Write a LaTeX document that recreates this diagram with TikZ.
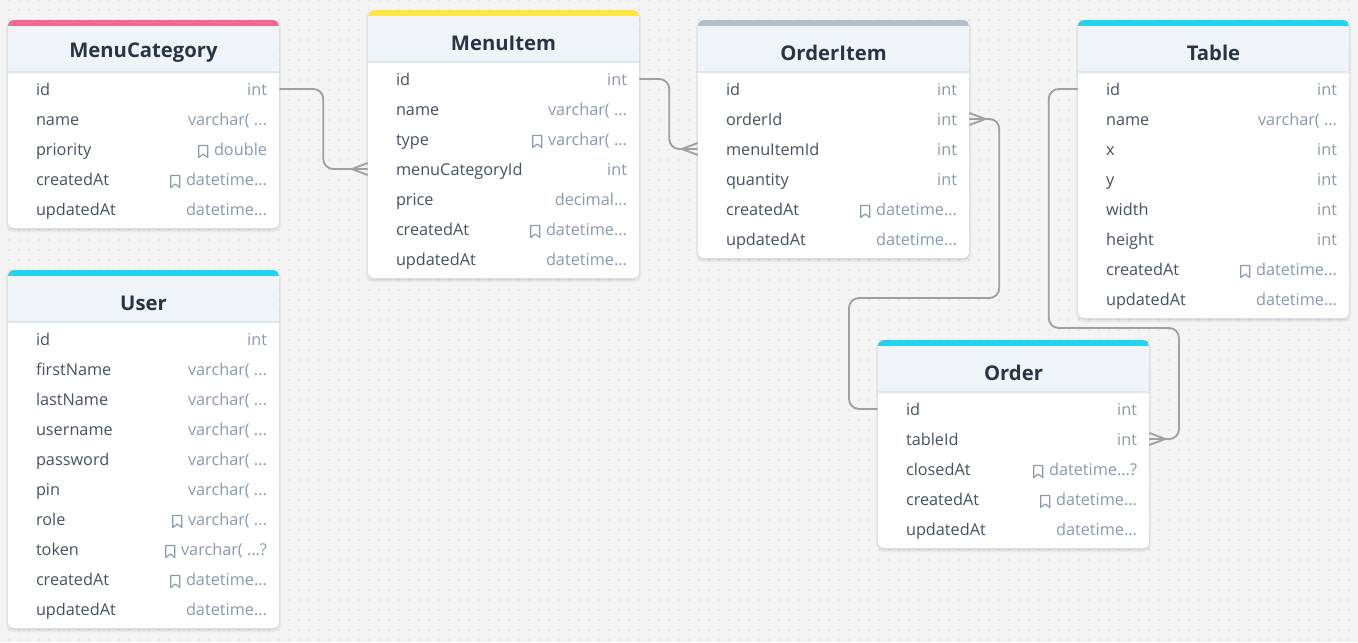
\documentclass[tikz,border=0pt]{standalone}
\usepackage{fontspec}
\setmainfont{Open Sans}
\usetikzlibrary{calc}
\definecolor{bgc}{HTML}{F4F4F4}
\definecolor{dotc}{HTML}{B4B4B4}
\definecolor{hdrc}{HTML}{F0F3F8}
\definecolor{hdrline}{HTML}{E0E6EF}
\definecolor{titlec}{HTML}{2A3444}
\definecolor{fieldc}{HTML}{485162}
\definecolor{typec}{HTML}{8C98AF}
\definecolor{connc}{HTML}{A0A0A0}
\definecolor{pinkc}{HTML}{F4678F}
\definecolor{yellowc}{HTML}{FDE843}
\definecolor{grayc}{HTML}{B4BEC9}
\definecolor{cyanc}{HTML}{22D3EE}
\tikzset{
  rowbox/.style={minimum width=203.25pt, minimum height=22.5pt, inner sep=0pt, draw=none},
  fieldtxt/.style={anchor=west, inner sep=0pt, text height=8pt, text depth=2.5pt, text=fieldc, font=\fontsize{12.2pt}{14pt}\selectfont},
  typetxt/.style={anchor=east, inner sep=0pt, text height=8pt, text depth=2.5pt, text=typec, font=\fontsize{12.2pt}{14pt}\selectfont},
  titletxt/.style={inner sep=0pt, text=titlec, font=\fontsize{15.2pt}{17pt}\selectfont\bfseries},
  bmk/.style={draw=typec, line width=0.85pt, line join=round},
  conn/.style={draw=connc, line width=1.4pt, rounded corners=7.5pt},
  foot/.style={draw=connc, line width=1.4pt},
}
\newcommand\bmark[1]{\draw[bmk] ($(#1.west)+(-15,-6)$) -- ++(9,0) -- ++(0,12) -- ++(-4.5,-3.5) -- ++(-4.5,3.5) -- cycle;}
\newcommand\dbtable[7]{%
  \fill[black, opacity=0.05, rounded corners=6pt] ({#2-2},{#3}) rectangle ({#2+273},{#3+62+30*#4});
  \fill[black, opacity=0.06, rounded corners=5pt] ({#2-0.5},{#3+1}) rectangle ({#2+271.5},{#3+60+30*#4});
  \fill[white, rounded corners=4.5pt] (#2,#3) rectangle ({#2+271},{#3+58+30*#4});
  \begin{scope}
    \clip[rounded corners=4.5pt] (#2,#3) rectangle ({#2+271},{#3+58+30*#4});
    \fill[#5] (#2,#3) rectangle ({#2+271},{#3+6});
    \fill[hdrc] (#2,{#3+6}) rectangle ({#2+271},{#3+52});
    \draw[hdrline, line width=1.5pt] (#2,{#3+52}) -- ({#2+271},{#3+52});
  \end{scope}
  \node[titletxt] (#1) at ({#2+135.5},{#3+33}) {#6};
  \foreach \f/\t/\b [count=\i from 0] in {#7} {
    \node[rowbox] (#1-\f) at ({#2+135.5},{#3+69+30*\i}) {};
    \node[fieldtxt] at ($(#1-\f.west)+(28,2.5)$) {\f};
    \node[typetxt] (#1-\f-t) at ($(#1-\f.east)+(-12,2.5)$) {\t};
    \ifnum\b=1 \bmark{#1-\f-t}\fi
  }
}
\newcommand\footW[1]{\draw[foot] ($(#1)+(0,-6)$) -- ($(#1)+(-16,0)$) -- ($(#1)+(0,6)$);}
\newcommand\footE[1]{\draw[foot] ($(#1)+(0,-6)$) -- ($(#1)+(16,0)$) -- ($(#1)+(0,6)$);}
\begin{document}
\begin{tikzpicture}[x=0.75pt, y=-0.75pt]
\useasboundingbox (0,0) rectangle (1358,642);
\fill[bgc] (0,0) rectangle (1358,642);
\foreach \yy in {0,10,...,640} {
  \draw[dotc, line width=0.95pt, line cap=round, dash pattern=on 0pt off 7.5pt] (-1,\yy) -- (1360,\yy);
}
\coordinate (bendA) at (849,298);
\coordinate (bendB) at (1179,328);

\dbtable{mc}{8}{20}{5}{pinkc}{MenuCategory}{id/int/0, name/{varchar( ...}/0, priority/double/1, createdAt/{datetime...}/1, updatedAt/{datetime...}/0}
\dbtable{mi}{368}{10}{7}{yellowc}{MenuItem}{id/int/0, name/{varchar( ...}/0, type/{varchar( ...}/1, menuCategoryId/int/0, price/{decimal...}/0, createdAt/{datetime...}/1, updatedAt/{datetime...}/0}
\dbtable{oi}{698}{20}{6}{grayc}{OrderItem}{id/int/0, orderId/int/0, menuItemId/int/0, quantity/int/0, createdAt/{datetime...}/1, updatedAt/{datetime...}/0}
\dbtable{tb}{1078}{20}{8}{cyanc}{Table}{id/int/0, name/{varchar( ...}/0, x/int/0, y/int/0, width/int/0, height/int/0, createdAt/{datetime...}/1, updatedAt/{datetime...}/0}
\dbtable{us}{8}{270}{10}{cyanc}{User}{id/int/0, firstName/{varchar( ...}/0, lastName/{varchar( ...}/0, username/{varchar( ...}/0, password/{varchar( ...}/0, pin/{varchar( ...}/0, role/{varchar( ...}/1, token/{varchar( ...?}/1, createdAt/{datetime...}/1, updatedAt/{datetime...}/0}
\dbtable{or}{878}{340}{5}{cyanc}{Order}{id/int/0, tableId/int/0, closedAt/{datetime...?}/1, createdAt/{datetime...}/1, updatedAt/{datetime...}/0}

\draw[conn] (mc-id.east) -- ++(44,0) |- (mi-menuCategoryId.west);
\footW{mi-menuCategoryId.west}
\draw[conn] (mi-id.east) -- ++(30,0) |- (oi-menuItemId.west);
\footW{oi-menuItemId.west}
\draw[conn] (oi-orderId.east) -- ++(30,0) |- (bendA) |- (or-id.west);
\footE{oi-orderId.east}
\draw[conn] (tb-id.west) -- ++(-29,0) |- (bendB) |- (or-tableId.east);
\footE{or-tableId.east}
\end{tikzpicture}
\end{document}
